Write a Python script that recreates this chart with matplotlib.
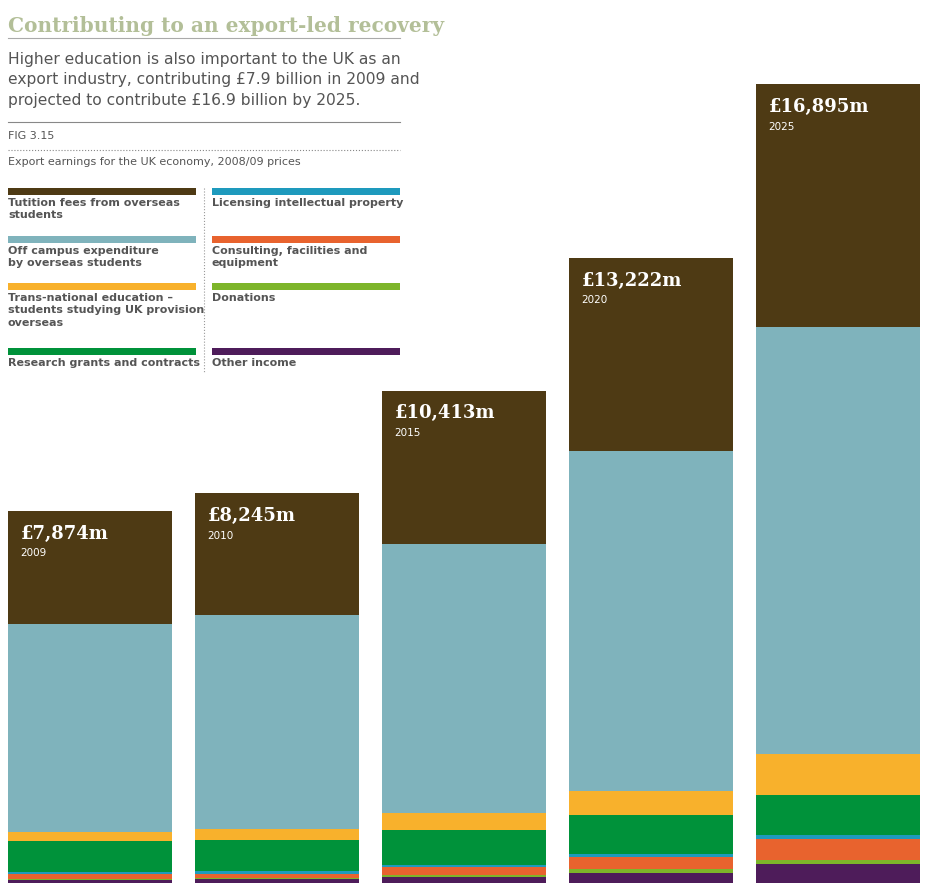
import matplotlib
matplotlib.use("Agg")
import matplotlib.pyplot as plt
import numpy as np

years = ["2009", "2010", "2015", "2020", "2025"]
totals = ["£7,874m", "£8,245m", "£10,413m", "£13,222m", "£16,895m"]
series_names = ["Other income", "Donations", "Consulting, facilities and\nequipment",
                "Licensing intellectual property", "Research grants and contracts",
                "Trans-national education –\nstudents studying UK provision\noverseas",
                "Off campus expenditure\nby overseas students",
                "Tutition fees from overseas\nstudents"]
other = [63, 78, 120, 205, 394]
donations = [21, 27, 42, 84, 84]
consulting = [105, 78, 169, 253, 443]
licensing = [42, 63, 42, 63, 84]
research = [650, 655, 738, 823, 865]
tne = [190, 232, 359, 527, 865]
offcampus = [4400, 4535, 5696, 7173, 9030]
tuition = [2403, 2577, 3247, 4094, 5130]
colors = ["#4e1c5a", "#7db52a", "#e8632e", "#1e9abd", "#00923a", "#f8b12c", "#7fb3bc", "#4e3a14"]
series = [other, donations, consulting, licensing, research, tne, offcampus, tuition]

W, H = 928, 890
fig = plt.figure(figsize=(W/100, H/100), dpi=100)
ax = fig.add_axes([8/W, (H-883)/H, 912/W, 799/H])
x = np.arange(len(years))
bottom = np.zeros(len(years))
for vals, c in zip(series, colors):
    ax.bar(x, vals, bottom=bottom, width=0.877, color=c, linewidth=0)
    bottom += np.array(vals)
ax.set_xlim(-0.4385, len(years) - 1 + 0.4385)
ax.set_ylim(0, 16895)
ax.axis("off")
for i in range(len(years)):
    top = bottom[i]
    ax.annotate(totals[i], (x[i] - 0.4385, top), xytext=(9, -10), textcoords="offset points",
                color="white", fontsize=13, fontweight="bold", family="DejaVu Serif", va="top")
    ax.annotate(years[i], (x[i] - 0.4385, top), xytext=(9, -27), textcoords="offset points",
                color="white", fontsize=7.5, va="top")

def fy(py): return 1 - py/H
def fx(px): return px/W
grey = "#555555"
fig.text(fx(8), fy(26), "Contributing to an export-led recovery", fontsize=14.5, fontweight="bold",
         color="#b3bf98", va="center", family="DejaVu Serif")
fig.add_artist(plt.Line2D([fx(8), fx(400)], [fy(38), fy(38)], color="#aaaaaa", lw=0.8))
fig.text(fx(8), fy(52), "Higher education is also important to the UK as an\nexport industry, contributing £7.9 billion in 2009 and\nprojected to contribute £16.9 billion by 2025.",
         fontsize=11.2, color=grey, va="top", linespacing=1.45)
fig.add_artist(plt.Line2D([fx(8), fx(400)], [fy(122), fy(122)], color="#888888", lw=0.8))
fig.text(fx(8), fy(136), "FIG 3.15", fontsize=8, color=grey, va="center")
fig.add_artist(plt.Line2D([fx(8), fx(400)], [fy(150), fy(150)], color="#888888", lw=0.8, ls=":"))
fig.text(fx(8), fy(162), "Export earnings for the UK economy, 2008/09 prices", fontsize=8, color=grey, va="center")

leg = [(7, 8, 191), (6, 8, 239), (5, 8, 286), (4, 8, 351),
       (3, 212, 191), (2, 212, 239), (1, 212, 286), (0, 212, 351)]
for idx, lx, ly in leg:
    fig.add_artist(plt.Rectangle((fx(lx), fy(ly + 4)), fx(188), 7/H, color=colors[idx], lw=0))
    fig.text(fx(lx), fy(ly + 7), series_names[idx], fontsize=8, fontweight="bold", color=grey,
             va="top", linespacing=1.3)
fig.add_artist(plt.Line2D([fx(204), fx(204)], [fy(188), fy(372)], color="#999999", lw=0.8, ls=":"))
fig.savefig("out.png", dpi=100)
